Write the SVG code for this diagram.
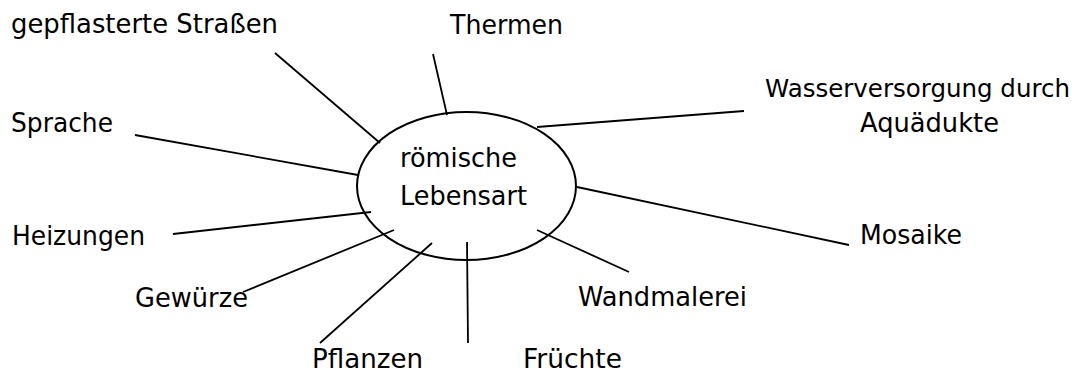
<svg xmlns="http://www.w3.org/2000/svg" width="1087" height="376" viewBox="0 0 1087 376">
<style>
text{font-family:"DejaVu Sans","Liberation Sans",sans-serif;font-size:27px;fill:#000}
.c line{stroke:#000;stroke-width:1.8;fill:none}
ellipse{fill:none;stroke:#000;stroke-width:2}
</style>
<rect width="1087" height="376" fill="#fff"/>
<g class="c" id="connectors">
<line x1="275" y1="53" x2="380" y2="143"/>
<line x1="135" y1="135" x2="358" y2="175"/>
<line x1="433" y1="54" x2="447" y2="115"/>
<line x1="537" y1="127" x2="744" y2="111"/>
<line x1="577" y1="187" x2="849" y2="245"/>
<line x1="537" y1="230" x2="629" y2="272"/>
<line x1="467" y1="242" x2="468" y2="343"/>
<line x1="432" y1="243" x2="320" y2="343"/>
<line x1="394" y1="230" x2="243" y2="292"/>
<line x1="371" y1="212" x2="173" y2="234"/>
</g>
<g id="center">
<ellipse cx="466.5" cy="186" rx="109.5" ry="74"/>
<text x="400" y="167" textLength="117" lengthAdjust="spacingAndGlyphs">römische</text>
<text x="400" y="205" textLength="127" lengthAdjust="spacingAndGlyphs">Lebensart</text>
</g>
<g id="n-strassen"><text x="11" y="33" textLength="267" lengthAdjust="spacingAndGlyphs">gepflasterte Straßen</text></g>
<g id="n-thermen"><text x="450" y="34" textLength="113" lengthAdjust="spacingAndGlyphs">Thermen</text></g>
<g id="n-wasser">
<text x="765" y="97" font-size="25" style="font-size:25px" textLength="305" lengthAdjust="spacingAndGlyphs">Wasserversorgung durch</text>
<text x="860" y="132" textLength="139" lengthAdjust="spacingAndGlyphs">Aquädukte</text>
</g>
<g id="n-sprache"><text x="11" y="132" textLength="102" lengthAdjust="spacingAndGlyphs">Sprache</text></g>
<g id="n-heizungen"><text x="12" y="245" textLength="133" lengthAdjust="spacingAndGlyphs">Heizungen</text></g>
<g id="n-mosaike"><text x="860" y="244" textLength="102" lengthAdjust="spacingAndGlyphs">Mosaike</text></g>
<g id="n-gewuerze"><text x="135" y="307" textLength="113" lengthAdjust="spacingAndGlyphs">Gewürze</text></g>
<g id="n-pflanzen"><text x="312" y="368" textLength="111" lengthAdjust="spacingAndGlyphs">Pflanzen</text></g>
<g id="n-fruechte"><text x="523" y="368" textLength="99" lengthAdjust="spacingAndGlyphs">Früchte</text></g>
<g id="n-wandmalerei"><text x="578" y="306" textLength="169" lengthAdjust="spacingAndGlyphs">Wandmalerei</text></g>
</svg>
